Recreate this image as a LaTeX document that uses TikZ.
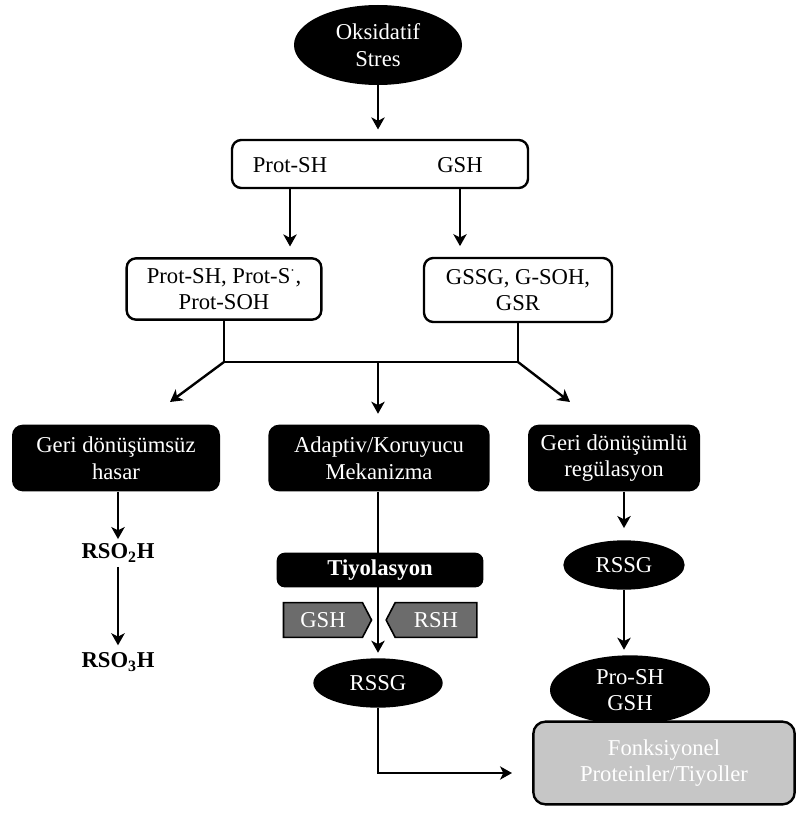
\documentclass[tikz,border=0pt]{standalone}
\usepackage{amsmath}
\usepackage{fontspec}
\setmainfont{Liberation Serif}
\usetikzlibrary{shapes, arrows, arrows.meta, positioning}
\tikzstyle{oval} = [ellipse, fill=black, text=white, align=center, inner sep=1pt]
\tikzstyle{kutu} = [draw=black, line width=1.8pt, rounded corners=7pt, fill=white, align=center]
\tikzstyle{siyah} = [fill=black, text=white, rounded corners=8pt, align=center]
\tikzstyle{gri} = [draw=black, line width=1.8pt, fill=gray!45, text=white, rounded corners=9pt, align=center]
\tikzstyle{isaret} = [signal, draw=black, line width=1.2pt, fill=gray!85!black, text=white, signal pointer angle=125]
\tikzstyle{ok} = [-{Stealth[length=9pt, width=10pt, inset=2.5pt]}, line width=1.8pt]
\tikzstyle{cizgi} = [line width=1.8pt]

\begin{document}
\begin{tikzpicture}[x=0.75pt, y=-0.75pt, every node/.style={font=\fontsize{17}{20}\selectfont}]
	\useasboundingbox (0,0) rectangle (797,813);
	% ust kisim
	\node [oval, minimum width=126pt, minimum height=60pt] (stres) at (378,45) {Oksidatif\\Stres};
	\node [kutu, minimum width=222pt, minimum height=36pt] (ikili) at (380,164) {};
	\node (protsh) at (290,165) {Prot-SH};
	\node (gsh) at (460,165) {GSH};
	\node [kutu, minimum width=146pt, minimum height=46pt] (protbox) at (224,289) {Prot-SH, Prot-S$^{\cdot}$,\\Prot-SOH};
	\node [kutu, minimum width=141pt, minimum height=48pt] (gssgbox) at (518,290) {GSSG, G-SOH,\\GSR};
	% uc yol
	\node [siyah, minimum width=156pt, minimum height=50pt] (hasar) at (116,458) {Geri dönüşümsüz\\hasar};
	\node [siyah, minimum width=166pt, minimum height=50pt] (adaptiv) at (379,458) {Adaptiv/Koruyucu\\Mekanizma};
	\node [siyah, minimum width=129pt, minimum height=50pt] (regul) at (614,458) {Geri dönüşümlü\\regülasyon};
	% sol
	\node (rso2h) at (118,553) {\textbf{RSO\textsubscript{2}H}};
	\node (rso3h) at (118,662) {\textbf{RSO\textsubscript{3}H}};
	% orta
	\node [oval, minimum width=97pt, minimum height=37pt] (rssga) at (378,683) {RSSG};
	\node [isaret, signal to=east, minimum width=66pt, minimum height=26pt] (gshok) at (323,620) {GSH};
	\node [isaret, signal to=west, minimum width=68pt, minimum height=26pt] (rshok) at (436,620) {RSH};
	% sag
	\node [oval, minimum width=91pt, minimum height=37pt] (rssgb) at (624,565) {RSSG};
	\node [oval, minimum width=120pt, minimum height=52pt] (prosh) at (630,690) {Pro-SH\\GSH};
	\node [gri, minimum width=196pt, minimum height=62pt] (fonk) at (664,763) {Fonksiyonel\\Proteinler/Tiyoller};

	\coordinate (jl) at (224,362);
	\coordinate (jm) at (378,362);
	\coordinate (jr) at (518,362);
	\coordinate (al) at (170,402);
	\coordinate (ar) at (570,402);
	\coordinate (son) at (512,773);

	\draw [ok, shorten >=7pt] (stres) -- (stres |- ikili.north);
	\draw [ok, shorten >=8pt] (protsh |- ikili.south) -- (protsh |- protbox.north);
	\draw [ok, shorten >=8pt] (gsh |- ikili.south) -- (gsh |- gssgbox.north);
	\draw [cizgi] (protbox.south) -- (jl) -- (jr) -- (gssgbox.south);
	\draw [ok] (jl) -- (al);
	\draw [ok] (jr) -- (ar);
	\draw [ok, shorten >=8pt] (jm) -- (jm |- adaptiv.north);
	\draw [ok] (rso2h |- hasar.south) -- (rso2h.north);
	\draw [ok, shorten >=2pt] (rso2h.south) -- (rso3h.north);
	\draw [ok, shorten >=4pt] (adaptiv.south -| rssga) -- (rssga.north);
	\node [siyah, rounded corners=6pt, minimum width=155pt, minimum height=26pt] (tiyol) at (380,570) {\textbf{Tiyolasyon}};
	\draw [ok, line width=1.4pt] (rssga.south) |- (son);
	\draw [ok, shorten >=9pt] (regul.south -| rssgb) -- (rssgb.north);
	\draw [ok, shorten >=4pt] (rssgb.south) -- (rssgb.south |- prosh.north);
\end{tikzpicture}
\end{document}
